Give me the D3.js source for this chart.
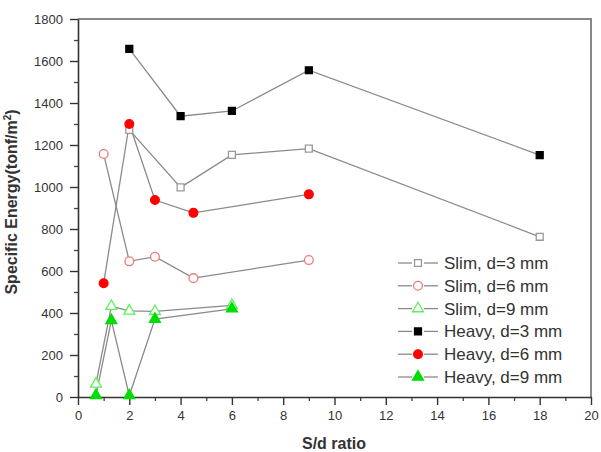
<!DOCTYPE html>
<html>
<head>
<meta charset="utf-8">
<script src="https://cdn.jsdelivr.net/npm/d3@7"></script>
<style>
  body { margin: 0; background: #fff; }
  text { font-family: Arial, "Liberation Sans", sans-serif; fill: #333; }
</style>
</head>
<body>
<svg id="chart" width="601" height="452"></svg>
<script>
// data
let seriesNames = ['Slim, d=3 mm', 'Slim, d=6 mm', 'Slim, d=9 mm', 'Heavy, d=3 mm', 'Heavy, d=6 mm', 'Heavy, d=9 mm'];

let slim3 = [[2, 1272], [4, 998], [6, 1153], [9, 1183], [18, 763]];
let slim6 = [[1, 1157], [2, 646], [3, 668], [4.5, 566], [9, 652]];
let slim9 = [[0.7, 62], [1.3, 432], [2, 410], [3, 408], [6, 436]];
let heavy3 = [[2, 1658], [4, 1337], [6, 1362], [9, 1556], [18, 1152]];
let heavy6 = [[1, 542], [2, 1300], [3, 938], [4.5, 877], [9, 965]];
let heavy9 = [[0.7, 8], [1.3, 365], [2, 7], [3, 371], [6, 420]];

let xTicks = [0, 2, 4, 6, 8, 10, 12, 14, 16, 18, 20];
let yTicks = [0, 200, 400, 600, 800, 1000, 1200, 1400, 1600, 1800];

let styles = [
  {shape: d3.symbolSquare, fill: '#fff', stroke: '#999', size: 48},
  {shape: d3.symbolCircle, fill: '#fff', stroke: '#f07a7a', size: 60},
  {shape: d3.symbolTriangle, fill: '#fff', stroke: '#5fef5f', size: 52},
  {shape: d3.symbolSquare, fill: '#000', stroke: '#000', size: 48},
  {shape: d3.symbolCircle, fill: '#ff0000', stroke: '#ff0000', size: 60},
  {shape: d3.symbolTriangle, fill: '#00dd00', stroke: '#00dd00', size: 52}
];
let allSeries = [slim3, slim6, slim9, heavy3, heavy6, heavy9];

let svg = d3.select('#chart');

let xScale = d3.scaleLinear().domain([0, 20]).range([78, 591]);
let yScale = d3.scaleLinear().domain([0, 1800]).range([397, 19]);

// minor ticks
let xMinor = d3.range(1, 20, 2);
let yMinor = d3.range(100, 1800, 200);

svg.append('g')
  .attr('transform', 'translate(0,397)')
  .call(d3.axisBottom(xScale).tickValues(xMinor).tickSize(4).tickFormat('').tickSizeOuter(0))
  .call(g => g.select('.domain').remove())
  .selectAll('line').attr('stroke', '#444').attr('stroke-width', 1.3);

svg.append('g')
  .attr('transform', 'translate(78,0)')
  .call(d3.axisLeft(yScale).tickValues(yMinor).tickSize(4).tickFormat('').tickSizeOuter(0))
  .call(g => g.select('.domain').remove())
  .selectAll('line').attr('stroke', '#444').attr('stroke-width', 1.3);

// frame top/right
svg.append('path')
  .attr('d', 'M' + xScale(0) + ',' + yScale(1800) + 'H' + xScale(20) + 'V' + yScale(0))
  .attr('fill', 'none')
  .attr('stroke', '#888')
  .attr('stroke-width', 2);

let xAxis = svg.append('g')
  .attr('transform', 'translate(0,397)')
  .call(d3.axisBottom(xScale).tickValues(xTicks).tickSize(8).tickPadding(6).tickSizeOuter(0).tickFormat(d3.format('d')));
xAxis.select('.domain').attr('stroke', '#333').attr('stroke-width', 1.6);
xAxis.selectAll('line').attr('stroke', '#333').attr('stroke-width', 1.4);
xAxis.selectAll('text').style('font-size', '13px').attr('fill', '#444');

let yAxis = svg.append('g')
  .attr('transform', 'translate(78,0)')
  .call(d3.axisLeft(yScale).tickValues(yTicks).tickSize(8).tickPadding(7).tickSizeOuter(0).tickFormat(d3.format('d')));
yAxis.select('.domain').attr('stroke', '#333').attr('stroke-width', 1.6);
yAxis.selectAll('line').attr('stroke', '#333').attr('stroke-width', 1.4);
yAxis.selectAll('text').style('font-size', '13px').attr('fill', '#444');

// axis titles
svg.append('text')
  .attr('x', 334)
  .attr('y', 449)
  .attr('text-anchor', 'middle')
  .style('font-size', '16px')
  .style('font-weight', 'bold')
  .text('S/d ratio');

let yTitle = svg.append('text')
  .attr('transform', 'translate(17,202) rotate(-90)')
  .attr('text-anchor', 'middle')
  .style('font-size', '16px')
  .style('font-weight', 'bold');
yTitle.append('tspan').text('Specific Energy(tonf/m');
yTitle.append('tspan').attr('dy', -6).style('font-size', '10px').text('2');
yTitle.append('tspan').attr('dy', 6).text(')');

// lines
let line = d3.line().x(d => xScale(d[0])).y(d => yScale(d[1]));

allSeries.forEach((s, i) => {
  svg.append('path')
    .datum(s)
    .attr('d', line)
    .attr('fill', 'none')
    .attr('stroke', '#8a8a8a')
    .attr('stroke-width', 1.3);
});

allSeries.forEach((s, i) => {
  let st = styles[i];
  svg.append('g').selectAll('path')
    .data(s)
    .enter()
    .append('path')
    .attr('d', d3.symbol().type(st.shape).size(st.size))
    .attr('transform', d => 'translate(' + xScale(d[0]) + ',' + yScale(d[1]) + ')')
    .attr('fill', st.fill)
    .attr('stroke', st.stroke)
    .attr('stroke-width', 1.3);
});

// legend
let legend = svg.append('g').attr('transform', 'translate(398,263)');
seriesNames.forEach((name, i) => {
  let st = styles[i];
  let row = legend.append('g').attr('transform', 'translate(0,' + (i * 22.8) + ')');
  row.append('line').attr('x1', 0).attr('x2', 14).attr('stroke', '#8a8a8a').attr('stroke-width', 1.3);
  row.append('line').attr('x1', 26).attr('x2', 40).attr('stroke', '#8a8a8a').attr('stroke-width', 1.3);
  row.append('path')
    .attr('d', d3.symbol().type(st.shape).size(st.size))
    .attr('transform', 'translate(20,0)')
    .attr('fill', st.fill)
    .attr('stroke', st.stroke)
    .attr('stroke-width', 1.3);
  row.append('text')
    .attr('x', 46)
    .attr('y', 6)
    .style('font-size', '17px')
    .text(name);
});
</script>
</body>
</html>
